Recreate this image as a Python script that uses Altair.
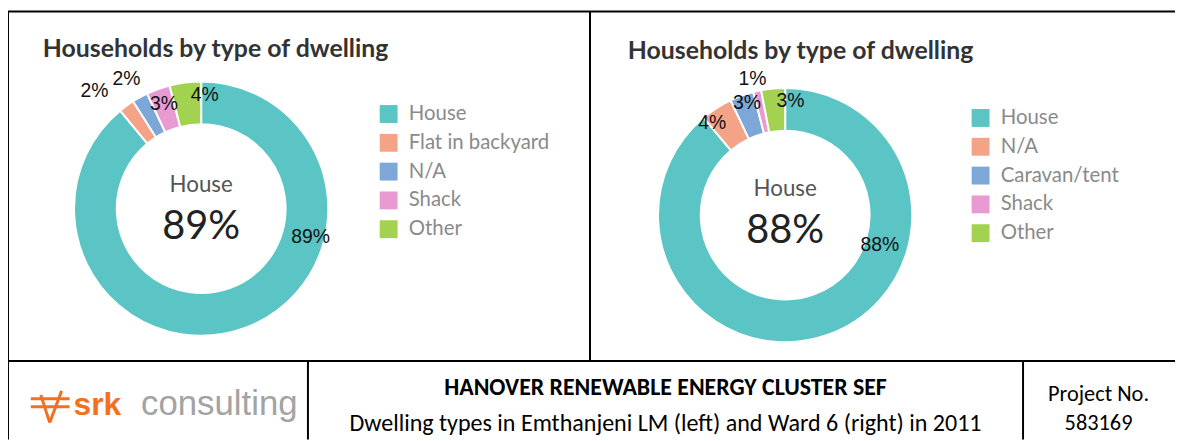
import math
import altair as alt
import pandas as pd

# ---------------- data ----------------
left_categories = ["House", "Flat in backyard", "N/A", "Shack", "Other"]
left_values = [89, 2, 2, 3, 4]
right_categories = ["House", "N/A", "Caravan/tent", "Shack", "Other"]
right_values = [88, 4, 3, 1, 3]
slice_colors = ["#5BC4C4", "#F4A386", "#7DA7D9", "#E99BD1", "#A2D24F"]

chart_title = "Households by type of dwelling"
footer_title = "HANOVER RENEWABLE ENERGY CLUSTER SEF"
footer_caption = "Dwelling types in Emthanjeni LM (left) and Ward 6 (right) in 2011"
project_lines = ["Project No.", "583169"]

# label anchors (angle in degrees clockwise from 12 o'clock, radius as fraction of outer radius)
left_label_angle = [104.5, 317.8, 330.1, 340.4, 1.8]
left_label_r = [0.89, 1.25, 1.18, 0.875, 0.894]
right_label_angle = [107.4, 321.7, 341.2, 346.5, 2.7]
right_label_r = [0.78, 0.925, 0.93, 1.10, 0.9]

W, H = 1175, 433
OUTER, INNER = 128, 85
OFF = 8  # page margin


def px(v):
    return v - OFF


one = pd.DataFrame({"k": [0]})


def donut(cats, vals, cx, cy, legend_x, legend_y):
    df = pd.DataFrame({"category": cats, "value": vals, "idx": list(range(len(cats)))})
    return alt.Chart(df).mark_arc(
        innerRadius=INNER, outerRadius=OUTER, stroke="white", strokeWidth=2
    ).encode(
        theta=alt.Theta("value:Q", stack=True),
        order=alt.Order("idx:Q"),
        color=alt.Color(
            "category:N",
            scale=alt.Scale(domain=cats, range=slice_colors),
            sort=cats,
            legend=alt.Legend(
                title=None,
                orient="none",
                legendX=legend_x,
                legendY=legend_y,
                padding=0,
                symbolType="square",
                symbolSize=324,
                symbolStrokeWidth=0,
                symbolOpacity=1,
                labelFont="Lato",
                labelFontSize=20.5,
                labelColor="#8A8A8A",
                labelOffset=10,
                rowPadding=8,
                labelLimit=300,
            ),
        ),
        x=alt.value(cx),
        y=alt.value(cy),
    )


def pct_labels(vals, angles, radii, cx, cy):
    df = pd.DataFrame({
        "lab": [f"{v}%" for v in vals],
        "ang": angles,
        "r": radii,
    })
    return alt.Chart(df).mark_text(
        font="Liberation Sans", fontSize=19.5, color="#111111"
    ).encode(
        theta=alt.Theta("ang:Q", stack=False,
                        scale=alt.Scale(domain=[0, 360], range=[0, 2 * math.pi])),
        radius=alt.Radius("r:Q", scale=alt.Scale(type="linear", domain=[0, 1], range=[0, OUTER])),
        text="lab:N",
        x=alt.value(cx),
        y=alt.value(cy),
    )


def text(t, x, y, size, color="#222222", font="Lato", weight="normal", align="center", baseline="middle"):
    return alt.Chart(one).mark_text(
        text=t, font=font, fontSize=size, color=color, fontWeight=weight,
        align=align, baseline=baseline
    ).encode(x=alt.value(x), y=alt.value(y))


def rule(x1, y1, x2, y2, color="#000000", width=2):
    return alt.Chart(one).mark_rule(color=color, strokeWidth=width, strokeCap="butt").encode(
        x=alt.value(x1), y=alt.value(y1), x2=alt.value(x2), y2=alt.value(y2)
    )


# centres (page coords converted to chart coords)
lcx, lcy = px(202.5), px(208.5)
rcx, rcy = px(790.5), px(215)

FOOT = "Carlito, Liberation Sans"

layers = [
    donut(left_categories, left_values, lcx, lcy, px(381), px(103)),
    donut(right_categories, right_values, rcx, rcy, px(977), px(107)),
    pct_labels(left_values, left_label_angle, left_label_r, lcx, lcy),
    pct_labels(right_values, right_label_angle, right_label_r, rcx, rcy),
    # titles
    text(chart_title, px(43), px(48), 25, color="#333333", weight="bold", align="left"),
    text(chart_title, px(632), px(50), 25, color="#333333", weight="bold", align="left"),
    # centre texts
    text(left_categories[0], lcx, px(185), 22.5, color="#555555"),
    text(f"{left_values[0]}%", lcx, px(227), 40, color="#222222"),
    text(right_categories[0], rcx, px(189), 22.5, color="#555555"),
    text(f"{right_values[0]}%", rcx, px(231), 40, color="#222222"),
    # frame lines
    rule(0, px(10), W, px(10)),
    rule(0, px(10), 0, H),
    rule(px(594), px(10), px(594), px(362)),
    rule(0, px(362), W, px(362)),
    rule(px(310), px(362), px(310), H),
    rule(px(1030), px(362), px(1030), H),
    # footer texts
    text(footer_title, px(670), px(389), 24, color="#000000", font=FOOT, weight="bold"),
    text(footer_caption, px(670), px(425), 24.2, color="#000000", font=FOOT),
    text(project_lines[0], px(1106), px(395), 22.5, color="#000000", font=FOOT),
    text(project_lines[1], px(1106), px(424), 22.5, color="#000000", font=FOOT),
    # logo
    rule(px(31), px(400), px(70), px(400), color="#F37021", width=3),
    rule(px(31), px(408), px(70), px(408), color="#F37021", width=3),
    rule(px(41), px(396), px(50), px(424), color="#F37021", width=3),
    rule(px(50), px(424), px(62), px(392), color="#F37021", width=3),
    text("srk", px(74), px(416), 32, color="#F37021", font="Liberation Sans", weight="bold",
         align="left", baseline="alphabetic"),
    text("consulting", px(142), px(416), 35, color="#A3A3A3", font="Liberation Sans",
         align="left", baseline="alphabetic"),
]

chart = alt.layer(*layers).resolve_scale(
    theta="independent", radius="independent", color="independent"
).properties(
    width=W, height=H, padding=0, autosize=alt.AutoSizeParams(type="none")
).configure_view(stroke=None)

chart.save("out.html", embed_options={"renderer": "svg", "actions": False})
